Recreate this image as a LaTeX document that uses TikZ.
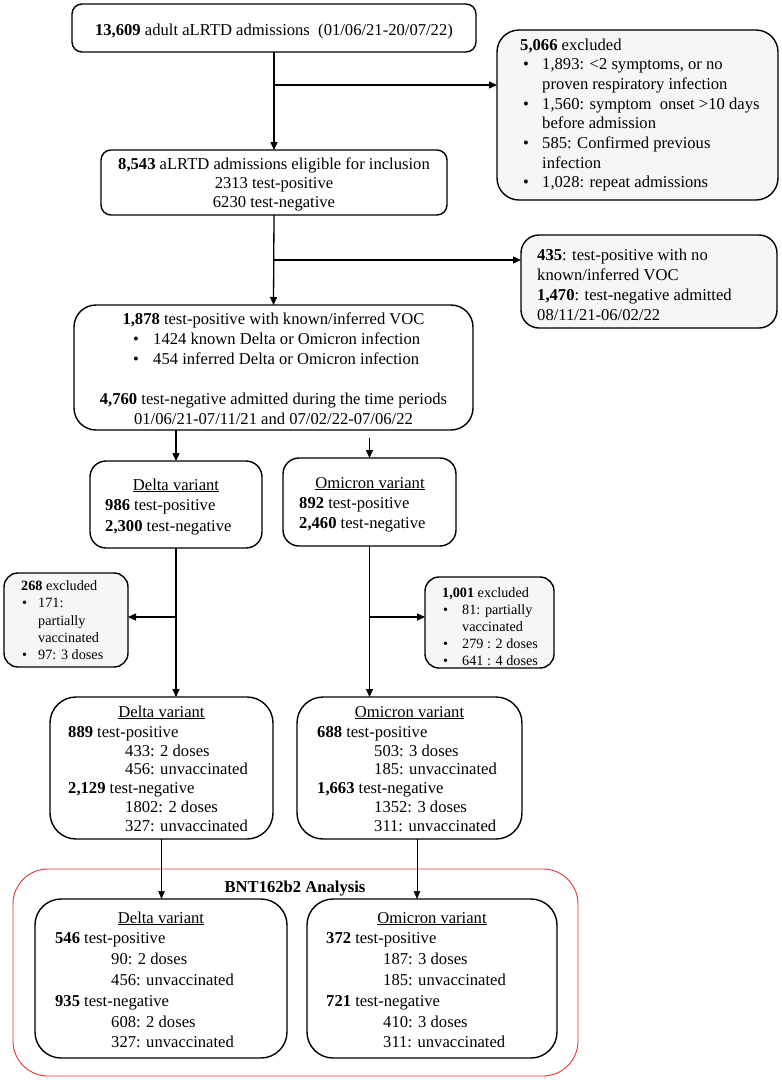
\documentclass[tikz,border=0pt]{standalone}
\usepackage{fontspec}
\setmainfont{Liberation Serif}
\usetikzlibrary{arrows.meta}
\newcounter{tcnt}
\definecolor{exfill}{RGB}{247,245,245}
\definecolor{redline}{RGB}{232,52,52}
% box: name, x1, y1, x2, y2, radius, style
\newcommand{\bxs}[7]{%
  \node[#7, rounded corners=#6, minimum width={#4-#2}, minimum height={#5-#3}] (#1) at ({(#2+#4)/2},{(#3+#5)/2}) {};}
% text line: [anchor] x, y, text
\newcommand{\txl}[4][base west]{\stepcounter{tcnt}\node[txt, anchor=#1] (t\arabic{tcnt}) at (#2,#3) {#4};}
\newcommand{\txs}[4][base west]{\stepcounter{tcnt}\node[txtsmall, anchor=#1] (t\arabic{tcnt}) at (#2,#3) {#4};}
\begin{document}
\begin{tikzpicture}[x=1pt,y=-1pt,
  box/.style={draw=black, line width=1.4pt, inner sep=0pt, outer sep=0pt},
  exbox/.style={box, fill=exfill},
  redbox/.style={draw=redline, line width=0.9pt, inner sep=0pt, outer sep=0pt},
  txt/.style={inner sep=0pt, font=\fontsize{16.6}{19}\selectfont},
  txtsmall/.style={inner sep=0pt, font=\fontsize{14.2}{17}\selectfont},
  arr/.style={draw, line width=1.3pt, -{Triangle[length=8pt,width=7pt]}},
  thinarr/.style={draw, line width=0.7pt, -{Triangle[length=8pt,width=6.5pt]}},
  ln/.style={draw, line width=1.3pt}]
\useasboundingbox (0,0) rectangle (782,1080);

% ---- boxes ----
\bxs{b1}{72}{4}{476}{52}{10pt}{box}
\bxs{e1}{497}{30}{778}{200}{22pt}{exbox}
\bxs{b2}{101}{150}{447}{215}{10pt}{box}
\bxs{e2}{521}{235}{777}{328}{18pt}{exbox}
\bxs{b3}{74}{305}{473}{430}{22pt}{box}
\bxs{d1}{90}{461}{262}{548}{16pt}{box}
\bxs{o1}{283}{458}{456}{546}{16pt}{box}
\bxs{e3}{4}{573}{128}{667}{14pt}{exbox}
\bxs{e4}{425}{577}{554}{668}{14pt}{exbox}
\bxs{d2}{50}{697}{273}{839}{26pt}{box}
\bxs{o2}{297}{697}{522}{839}{26pt}{box}
\bxs{rb}{13}{869}{578}{1076}{35pt}{redbox}
\bxs{d3}{35}{899}{287}{1058}{26pt}{box}
\bxs{o3}{307}{899}{557}{1058}{26pt}{box}

% ---- connectors ----
\draw[arr] (b1.south) -- (b2.north);
\coordinate (j1) at (274,85);
\draw[arr] (j1) -- (j1 -| e1.west);
\draw[arr] (b2.south) -- (b3.north);
\coordinate (j2) at (274,260);
\draw[arr] (j2) -- (j2 -| e2.west);
\draw[arr] (b3.south -| d1.north) -- (d1.north);
\coordinate (s1) at (369.5,438);
\draw[arr] (s1) -- (o1.north);
\draw[arr] (d1.south) -- (d1.south |- d2.north);
\coordinate (j3) at (176,617);
\draw[arr] (j3) -- (j3 -| e3.east);
\draw[arr] (o1.south) -- (o1.south |- o2.north);
\coordinate (j4) at (369.5,617);
\draw[arr] (j4) -- (j4 -| e4.west);
\draw[thinarr] (d2.south) -- (d2.south |- d3.north);
\coordinate (o2b) at (417,839);
\draw[thinarr] (o2b) -- (o2b |- o3.north);

% ---- texts ----
\txl[base]{274}{35}{\textbf{13,609} adult aLRTD admissions \ (01/06/21-20/07/22)}

\txl{520}{50}{\textbf{5,066} excluded}
\txl{523}{69.7}{•}\txl{542}{69.7}{1,893: <2 symptoms, or no}
\txl{542}{89.4}{proven respiratory infection}
\txl{523}{109.1}{•}\txl{542}{109.1}{1,560: symptom \ onset >10 days}
\txl{542}{128.8}{before admission}
\txl{523}{148.5}{•}\txl{542}{148.5}{585: Confirmed previous}
\txl{542}{168.2}{infection}
\txl{523}{187.9}{•}\txl{542}{187.9}{1,028: repeat admissions}

\txl[base]{274}{169}{\textbf{8,543} aLRTD admissions eligible for inclusion}
\txl[base]{274}{188}{2313 test-positive}
\txl[base]{274}{207.5}{6230 test-negative}

\txl{537}{260}{\textbf{435}: test-positive with no}
\txl{537}{280}{known/inferred VOC}
\txl{537}{300}{\textbf{1,470}: test-negative admitted}
\txl{537}{320}{08/11/21-06/02/22}

\txl[base]{273.5}{324}{\textbf{1,878} test-positive with known/inferred VOC}
\txl{133}{344}{•}\txl{153}{344}{1424 known Delta or Omicron infection}
\txl{133}{364}{•}\txl{153}{364}{454 inferred Delta or Omicron infection}
\txl[base]{273.5}{404}{\textbf{4,760} test-negative admitted during the time periods}
\txl[base]{273.5}{424}{01/06/21-07/11/21 and 07/02/22-07/06/22}

\txl[base]{176}{490}{\underline{Delta variant}}
\txl{105}{510}{\textbf{986} test-positive}
\txl{105}{531}{\textbf{2,300} test-negative}

\txl[base]{370}{488}{\underline{Omicron variant}}
\txl{299}{508}{\textbf{892} test-positive}
\txl{299}{528}{\textbf{2,460} test-negative}

\txs{21}{590.5}{\textbf{268} excluded}
\txs{22}{607.5}{•}\txs{38}{607.5}{171:}
\txs{38}{625}{partially}
\txs{38}{642}{vaccinated}
\txs{22}{659.5}{•}\txs{38}{659.5}{97: 3 doses}

\txs{442}{597}{\textbf{1,001} excluded}
\txs{443}{614}{•}\txs{462}{614}{81: partially}
\txs{462}{631}{vaccinated}
\txs{443}{648}{•}\txs{462}{648}{279 : 2 doses}
\txs{443}{665}{•}\txs{462}{665}{641 : 4 doses}

\txl[base]{161.5}{717}{\underline{Delta variant}}
\txl{68}{737}{\textbf{889} test-positive}
\txl{125}{756}{433: 2 doses}
\txl{125}{774}{456: unvaccinated}
\txl{68}{793}{\textbf{2,129} test-negative}
\txl{125}{812}{1802: 2 doses}
\txl{125}{831}{327: unvaccinated}

\txl[base]{409.5}{717}{\underline{Omicron variant}}
\txl{317}{737}{\textbf{688} test-positive}
\txl{374}{756}{503: 3 doses}
\txl{374}{774}{185: unvaccinated}
\txl{317}{793}{\textbf{1,663} test-negative}
\txl{374}{812}{1352: 3 doses}
\txl{374}{831}{311: unvaccinated}

\txl[base]{295}{892}{\textbf{BNT162b2 Analysis}}

\txl[base]{161}{923}{\underline{Delta variant}}
\txl{55}{943.8}{\textbf{546} test-positive}
\txl{111}{964.6}{90: 2 doses}
\txl{111}{985.4}{456: unvaccinated}
\txl{55}{1006.2}{\textbf{935} test-negative}
\txl{111}{1027}{608: 2 doses}
\txl{111}{1047.8}{327: unvaccinated}

\txl[base]{432}{923}{\underline{Omicron variant}}
\txl{326}{943.8}{\textbf{372} test-positive}
\txl{383}{964.6}{187: 3 doses}
\txl{383}{985.4}{185: unvaccinated}
\txl{326}{1006.2}{\textbf{721} test-negative}
\txl{383}{1027}{410: 3 doses}
\txl{383}{1047.8}{311: unvaccinated}
\end{tikzpicture}
\end{document}
